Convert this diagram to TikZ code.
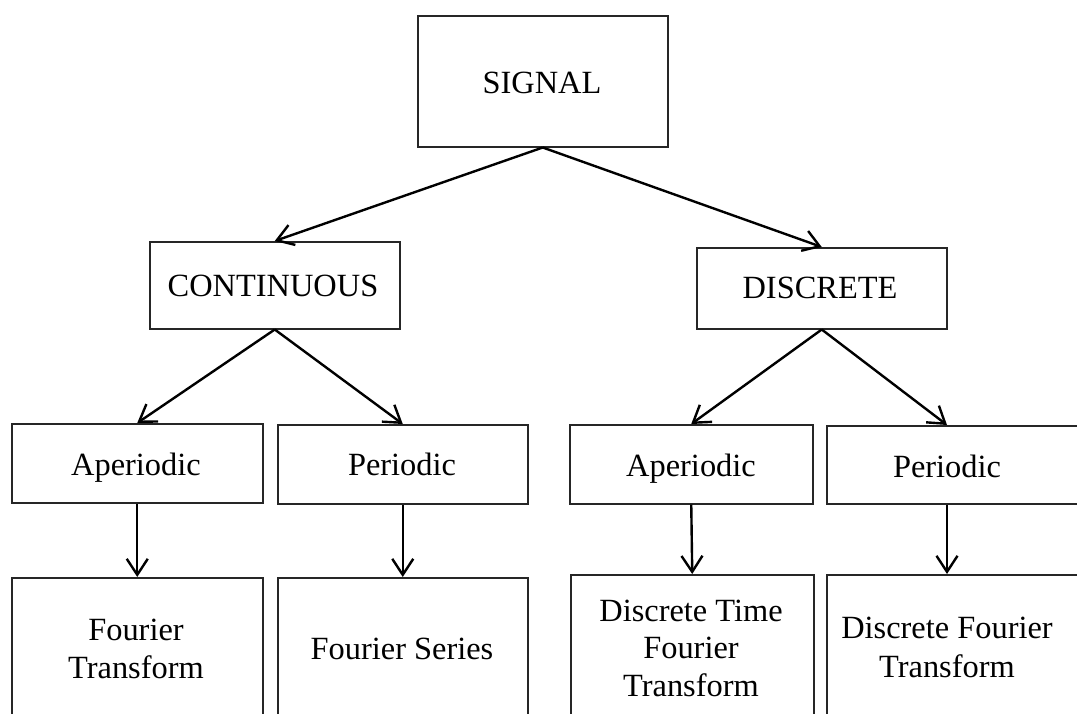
\documentclass[tikz,border=0pt]{standalone}
\usepackage{fontspec}
\setmainfont{Liberation Serif}
\usetikzlibrary{arrows.meta}
\begin{document}
\begin{tikzpicture}[x=1pt,y=-1pt,
  box/.style={draw=black!85, line width=1.5pt, inner sep=0pt, anchor=north west},
  lbl/.style={inner sep=0pt, anchor=base, font=\fontsize{32.4}{37}\selectfont},
  arr/.style={line width=2.4pt, -{Straight Barb[length=16pt,width=21pt]}}]
\useasboundingbox (0,0) rectangle (1077,713);
\clip (0,0) rectangle (1077,713);

% top level
\node[box, minimum width=250, minimum height=131] (sig) at (417,15) {};
\node[lbl] (sigt) at (542,93) {SIGNAL};

% second level
\node[box, minimum width=250, minimum height=87] (cont) at (149,241) {};
\node[lbl] (contt) at (273,296) {CONTINUOUS};
\node[box, minimum width=250, minimum height=81] (disc) at (696,247) {};
\node[lbl] (disct) at (820,298) {DISCRETE};

% third level
\node[box, minimum width=251, minimum height=79] (cap) at (11,423) {};
\node[lbl] (capt) at (136,475) {Aperiodic};
\node[box, minimum width=250, minimum height=79] (cper) at (277,424) {};
\node[lbl] (cpert) at (402,475) {Periodic};
\node[box, minimum width=243, minimum height=79] (dap) at (569,424) {};
\node[lbl] (dapt) at (691,476) {Aperiodic};
\node[box, minimum width=260, minimum height=78] (dper) at (826,425) {};
\node[lbl] (dpert) at (947,477) {Periodic};

% transforms
\node[box, minimum width=251, minimum height=160] (ft) at (11,577) {};
\node[lbl] (ft1) at (136,640) {Fourier};
\node[lbl] (ft2) at (136,678) {Transform};
\node[box, minimum width=250, minimum height=160] (fs) at (277,577) {};
\node[lbl] (fs1) at (402,659) {Fourier Series};
\node[box, minimum width=243, minimum height=160] (dtft) at (570,574) {};
\node[lbl] (dtft1) at (691,621) {Discrete Time};
\node[lbl] (dtft2) at (691,658) {Fourier};
\node[lbl] (dtft3) at (691,696) {Transform};
\node[box, minimum width=260, minimum height=160] (dft) at (826,574) {};
\node[lbl] (dft1) at (947,638) {Discrete Fourier};
\node[lbl] (dft2) at (947,677) {Transform};

% connectors
\draw[arr] (sig.south) -- (cont.north);
\draw[arr] (sig.south) -- (disc.north);
\draw[arr] (cont.south) -- (cap.north);
\draw[arr] (cont.south) -- (cper.north);
\draw[arr] (disc.south) -- (dap.north);
\draw[arr] (disc.south) -- (dpert |- dper.north);
\draw[arr] (cap.south) -- (ft.north);
\draw[arr] (cper.south) -- (fs.north);
\draw[arr] (dap.south) -- (dtft.north);
\draw[arr] (dpert |- dper.south) -- (dpert |- dft.north);
\end{tikzpicture}
\end{document}
